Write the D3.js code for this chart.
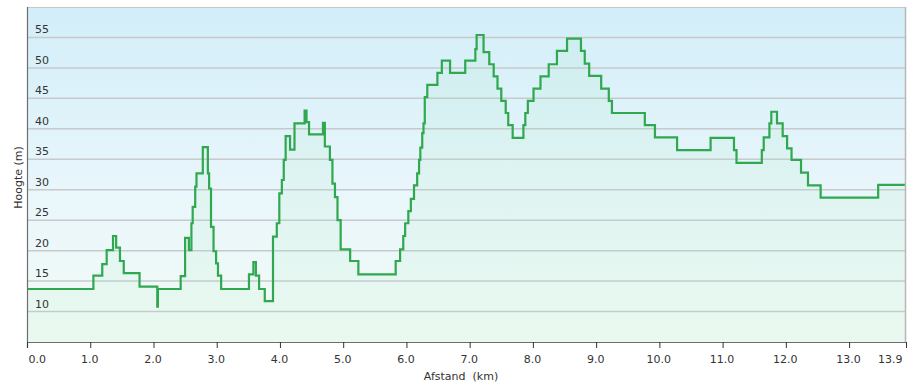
<!DOCTYPE html>
<html><head><meta charset="utf-8">
<script src="https://cdn.jsdelivr.net/npm/d3@7"></script>
<style>html,body{margin:0;padding:0;background:#fff;}svg{display:block;}</style>
</head><body>
<svg id="c" width="910" height="386"></svg>
<script>
const distance = [0,1.05,1.19,1.26,1.36,1.41,1.47,1.53,1.78,2.06,2.07,2.43,2.50,2.56,2.60,2.62,2.66,2.68,2.78,2.86,2.88,2.91,2.95,2.99,3.02,3.07,3.51,3.58,3.62,3.67,3.76,3.89,3.95,3.99,4.03,4.06,4.09,4.16,4.23,4.39,4.42,4.46,4.68,4.71,4.79,4.83,4.87,4.91,4.96,5.11,5.24,5.83,5.90,5.95,5.98,6.03,6.07,6.12,6.17,6.20,6.22,6.25,6.27,6.29,6.33,6.49,6.56,6.69,6.93,7.09,7.11,7.22,7.31,7.38,7.44,7.50,7.57,7.61,7.68,7.85,7.88,7.92,8.01,8.12,8.25,8.38,8.54,8.76,8.82,8.89,9.08,9.20,9.25,9.77,9.93,10.28,10.81,11.18,11.22,11.62,11.65,11.74,11.77,11.86,11.95,12.02,12.09,12.24,12.35,12.55,13.46,13.9];
const elevation = [13.7,15.9,17.8,20.1,22.4,20.5,18.3,16.3,14.1,10.8,13.7,15.8,22.1,20.1,24.5,27.2,30.5,32.7,37.0,32.7,30.2,23.9,19.9,17.9,15.9,13.7,16.1,18.1,15.9,13.7,11.7,22.3,24.5,29.4,31.6,34.9,38.8,36.6,40.9,43.0,41.1,39.1,41.0,37.1,34.9,31.0,28.8,25.0,20.2,18.3,16.1,18.3,20.2,22.4,24.5,26.5,28.5,30.7,32.7,34.9,36.9,39.3,40.9,45.2,47.2,49.2,51.2,49.2,51.2,53.1,55.4,52.6,50.6,48.6,46.6,44.6,42.6,40.6,38.5,40.6,42.6,44.6,46.6,48.6,50.6,52.8,54.8,52.8,50.7,48.7,46.6,44.6,42.6,40.6,38.6,36.5,38.5,36.5,34.4,36.5,38.6,40.9,42.8,40.9,38.8,36.8,34.9,32.8,30.7,28.7,30.8,30.8];
const yTicks = [10,15,20,25,30,35,40,45,50,55];
const xTicks = [0,1,2,3,4,5,6,7,8,9,10,11,12,13,13.9];
const xTitle = "Afstand  (km)";
const yTitle = "Hoogte (m)";

const L = 27, R = 906, T = 7, B = 342;
const svg = d3.select("#c");
const x = d3.scaleLinear().domain([0, 13.9]).range([L, R]);
const y = d3.scaleLinear().domain([5, 60]).range([B, T]);
const data = distance.map((d, i) => ({d, e: elevation[i]}));

const defs = svg.append("defs");
const bg = defs.append("linearGradient").attr("id", "bg").attr("x1", 0).attr("y1", 0).attr("x2", 0).attr("y2", 1);
bg.append("stop").attr("offset", "0%").attr("stop-color", "#d2eef9");
bg.append("stop").attr("offset", "55%").attr("stop-color", "#e9f6fb");
bg.append("stop").attr("offset", "100%").attr("stop-color", "#f2fbf6");
const fg = defs.append("linearGradient").attr("id", "fg").attr("x1", 0).attr("y1", 0).attr("x2", 0).attr("y2", 1);
fg.append("stop").attr("offset", "0%").attr("stop-color", "#8fe0a8").attr("stop-opacity", 0.11);
fg.append("stop").attr("offset", "100%").attr("stop-color", "#a8eabd").attr("stop-opacity", 0.12);

svg.append("rect").attr("x", L).attr("y", T).attr("width", R - L).attr("height", B - T)
  .attr("fill", "url(#bg)");

// gridlines
svg.append("g").selectAll("line").data(yTicks).join("line")
  .attr("x1", L).attr("x2", R).attr("y1", d => y(d)).attr("y2", d => y(d))
  .attr("stroke", "#c6cacc").attr("stroke-width", 1.5);

// area
const area = d3.area().curve(d3.curveStepAfter).x(p => x(p.d)).y0(B).y1(p => y(p.e));
svg.append("path").datum(data).attr("d", area).attr("fill", "url(#fg)");

// line
const line = d3.line().curve(d3.curveStepAfter).x(p => x(p.d)).y(p => y(p.e));
svg.append("path").datum(data).attr("d", line).attr("fill", "none")
  .attr("stroke", "#2fa84f").attr("stroke-width", 2.2).attr("stroke-linejoin", "miter");

// border
svg.append("line").attr("x1", L).attr("x2", R).attr("y1", T + 0.5).attr("y2", T + 0.5).attr("stroke", "#c8c8c8");
svg.append("line").attr("x1", R - 0.5).attr("x2", R - 0.5).attr("y1", T).attr("y2", B).attr("stroke", "#b8b8b8").attr("stroke-width", 1.5);

// y tick labels
svg.append("g").selectAll("text").data(yTicks).join("text")
  .attr("x", 35).attr("y", d => y(d) - 4)
  .attr("font-family", "DejaVu Sans, Verdana, sans-serif").attr("font-size", 11).attr("fill", "#333")
  .text(d => d);

// axes lines
svg.append("line").attr("x1", L + 0.5).attr("x2", L + 0.5).attr("y1", T).attr("y2", B + 6).attr("stroke", "#6e6e6e").attr("stroke-width", 1.2);
svg.append("line").attr("x1", L).attr("x2", R).attr("y1", B + 0.5).attr("y2", B + 0.5).attr("stroke", "#6e6e6e").attr("stroke-width", 1.2);

// x ticks
const xg = svg.append("g").attr("transform", `translate(0,${B})`)
  .call(d3.axisBottom(x).tickValues(xTicks).tickFormat(d3.format(".1f")).tickSize(6).tickPadding(7));
xg.select(".domain").remove();
xg.selectAll(".tick line").attr("stroke", "#333");
xg.selectAll(".tick text").attr("font-family", "DejaVu Sans, Verdana, sans-serif").attr("font-size", 11).attr("fill", "#333")
  .attr("text-anchor", (d, i) => i === 0 ? "start" : (i === xTicks.length - 1 ? "end" : "middle"))
  .attr("dx", (d, i) => i === 0 ? 1 : (i === xTicks.length - 1 ? -4 : -1));

// titles
svg.append("text").attr("x", 461).attr("y", 380).attr("text-anchor", "middle").style("white-space", "pre")
  .attr("font-family", "DejaVu Sans, Verdana, sans-serif").attr("font-size", 11).attr("fill", "#333").text(xTitle);
svg.append("text").attr("transform", `translate(22,${(T + B) / 2 + 3}) rotate(-90)`).attr("text-anchor", "middle")
  .attr("font-family", "DejaVu Sans, Verdana, sans-serif").attr("font-size", 11).attr("fill", "#333").text(yTitle);
</script>
</body></html>
